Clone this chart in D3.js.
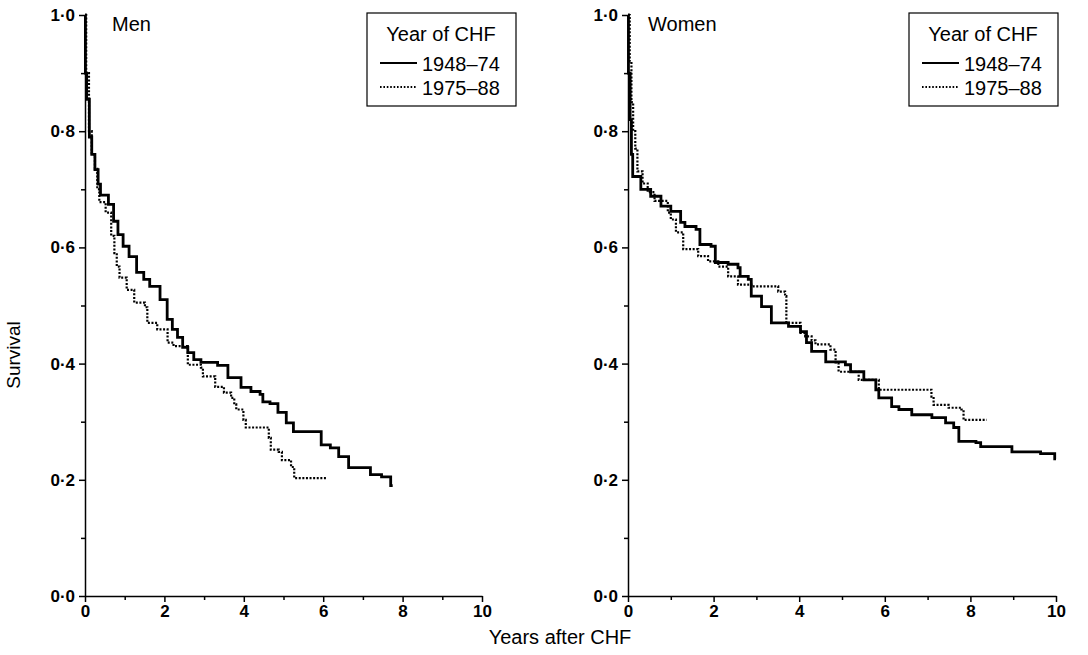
<!DOCTYPE html>
<html>
<head>
<meta charset="utf-8">
<script src="https://cdn.jsdelivr.net/npm/d3@7"></script>
<style>
  body { margin: 0; background: #fff; }
  svg { display: block; font-family: "Liberation Sans", Arial, sans-serif; }
</style>
</head>
<body>
<svg id="chart" width="1088" height="655"></svg>
<script>
// tick values
const xMajor = [0, 2, 4, 6, 8, 10];
const xMinor = [1, 3, 5, 7, 9];
const yMajor = [0, 0.2, 0.4, 0.6, 0.8, 1.0];
const yMinor = [0.1, 0.3, 0.5, 0.7, 0.9];
const groups = ["1948–74", "1975–88"];

// Kaplan-Meier steps: [years, survival after the drop]
const menEarly = [
  [0, 1], [0.01, 0.9], [0.04, 0.855], [0.11, 0.79], [0.17, 0.76], [0.25, 0.734], [0.33, 0.709],
  [0.39, 0.69], [0.59, 0.674], [0.72, 0.645], [0.83, 0.622], [0.96, 0.602], [1.11, 0.584],
  [1.3, 0.557], [1.48, 0.545], [1.63, 0.533], [1.89, 0.51], [2.07, 0.476], [2.2, 0.459],
  [2.33, 0.445], [2.46, 0.428], [2.59, 0.419], [2.74, 0.407], [2.92, 0.402], [3.34, 0.397],
  [3.6, 0.376], [3.93, 0.359], [4.18, 0.352], [4.41, 0.347], [4.48, 0.334], [4.66, 0.331],
  [4.86, 0.316], [5.07, 0.298], [5.25, 0.283], [5.95, 0.26], [6.18, 0.255], [6.39, 0.24],
  [6.64, 0.221], [7.19, 0.209], [7.47, 0.205], [7.7, 0.19], [7.75, 0.19]
];
const menLate = [
  [0, 1], [0.03, 0.9], [0.1, 0.8], [0.17, 0.76], [0.25, 0.735], [0.31, 0.7], [0.36, 0.678],
  [0.52, 0.66], [0.66, 0.62], [0.74, 0.59], [0.8, 0.567], [0.87, 0.548], [1.05, 0.527],
  [1.24, 0.505], [1.51, 0.497], [1.57, 0.47], [1.82, 0.459], [2.08, 0.436], [2.23, 0.43],
  [2.59, 0.398], [2.92, 0.393], [2.97, 0.378], [3.28, 0.36], [3.5, 0.35], [3.68, 0.341],
  [3.76, 0.33], [3.81, 0.321], [3.99, 0.303], [4.05, 0.29], [4.63, 0.272], [4.68, 0.252],
  [4.88, 0.248], [4.96, 0.234], [5.19, 0.222], [5.27, 0.203], [6.07, 0.203]
];
const womenEarly = [
  [0, 1], [0.01, 0.9], [0.05, 0.82], [0.08, 0.76], [0.11, 0.722], [0.3, 0.7], [0.53, 0.688],
  [0.77, 0.671], [1.0, 0.662], [1.23, 0.643], [1.33, 0.636], [1.59, 0.631], [1.68, 0.605],
  [1.94, 0.602], [2.04, 0.574], [2.34, 0.571], [2.57, 0.565], [2.62, 0.55], [2.81, 0.545],
  [2.88, 0.516], [3.12, 0.498], [3.35, 0.47], [3.75, 0.464], [4.03, 0.455], [4.17, 0.436],
  [4.29, 0.421], [4.62, 0.403], [5.08, 0.398], [5.2, 0.386], [5.51, 0.372], [5.79, 0.355],
  [5.86, 0.341], [6.16, 0.326], [6.33, 0.321], [6.63, 0.312], [7.1, 0.307], [7.42, 0.298],
  [7.61, 0.29], [7.73, 0.266], [8.13, 0.264], [8.24, 0.257], [8.97, 0.248], [9.64, 0.245],
  [9.97, 0.236], [10, 0.236]
];
const womenLate = [
  [0, 1], [0.04, 0.92], [0.08, 0.85], [0.12, 0.8], [0.17, 0.77], [0.22, 0.731], [0.34, 0.71],
  [0.46, 0.695], [0.62, 0.68], [0.93, 0.66], [1.0, 0.648], [1.12, 0.626], [1.29, 0.597],
  [1.64, 0.585], [1.87, 0.576], [2.11, 0.567], [2.34, 0.55], [2.57, 0.536], [2.88, 0.533],
  [3.51, 0.524], [3.67, 0.516], [3.7, 0.47], [4.03, 0.453], [4.14, 0.447], [4.29, 0.44],
  [4.38, 0.433], [4.73, 0.424], [4.85, 0.402], [4.92, 0.386], [5.39, 0.372], [5.86, 0.355],
  [7.09, 0.343], [7.14, 0.329], [7.49, 0.324], [7.79, 0.321], [7.84, 0.303], [8.38, 0.303]
];

const panels = [
  { title: "Men", series: [menEarly, menLate], x0: 85, x1: 482, titleX: 112, legendX: 367 },
  { title: "Women", series: [womenEarly, womenLate], x0: 628, x1: 1056, titleX: 648, legendX: 909 }
];

const svg = d3.select("#chart");
const yTop = 15, yBottom = 596;
const fmt = d => d.toFixed(1).replace(".", "·");

panels.forEach(p => {
    const x = d3.scaleLinear().domain([0, 10]).range([p.x0, p.x1]);
    const y = d3.scaleLinear().domain([0, 1]).range([yBottom, yTop]);
    const g = svg.append("g");

    // minor ticks first, no labels
    g.append("g")
        .attr("transform", `translate(${p.x0},0)`)
        .call(d3.axisLeft(y).tickValues(yMinor).tickSize(4).tickFormat(""))
        .call(a => a.select(".domain").remove());
    g.append("g")
        .attr("transform", `translate(0,${yBottom})`)
        .call(d3.axisBottom(x).tickValues(xMinor).tickSize(4).tickFormat(""))
        .call(a => a.select(".domain").remove());

    const yAxis = g.append("g")
        .attr("transform", `translate(${p.x0},0)`)
        .call(d3.axisLeft(y).tickValues(yMajor).tickSize(6).tickSizeOuter(0).tickPadding(4).tickFormat(fmt));
    const xAxis = g.append("g")
        .attr("transform", `translate(0,${yBottom})`)
        .call(d3.axisBottom(x).tickValues(xMajor).tickSize(6).tickSizeOuter(0).tickPadding(3));

    [yAxis, xAxis].forEach(a => {
        a.selectAll("path, line").attr("stroke", "#000").attr("stroke-width", 1.5);
        a.selectAll("text").attr("fill", "#000").style("font-size", "17px").style("font-weight", "bold")
            .style("font-family", "'Liberation Sans', Arial, sans-serif");
    });
    g.selectAll("line").attr("stroke", "#000").attr("stroke-width", 1.5);

    const line = d3.line()
        .x(d => x(d[0]))
        .y(d => y(d[1]))
        .curve(d3.curveStepAfter);

    p.series.forEach((s, i) => {
        g.append("path")
            .datum(s)
            .attr("fill", "none")
            .attr("stroke", "#000")
            .attr("stroke-width", i === 0 ? 2.8 : 2.2)
            .attr("stroke-dasharray", i === 0 ? null : "2,1.6")
            .attr("d", line);
    });

    g.append("text")
        .attr("x", p.titleX)
        .attr("y", 31)
        .style("font-size", "20px")
        .text(p.title);

    // legend box
    const lg = g.append("g").attr("transform", `translate(${p.legendX},13)`);
    lg.append("rect")
        .attr("width", 149).attr("height", 93)
        .attr("fill", "#fff").attr("stroke", "#000").attr("stroke-width", 1.2);
    lg.append("text")
        .attr("x", 74).attr("y", 28)
        .attr("text-anchor", "middle")
        .style("font-size", "20px")
        .text("Year of CHF");
    groups.forEach((name, i) => {
        const yy = 50 + i * 24;
        lg.append("line")
            .attr("x1", 13).attr("x2", 50)
            .attr("y1", yy).attr("y2", yy)
            .attr("stroke", "#000")
            .attr("stroke-width", i === 0 ? 2 : 1.8)
            .attr("stroke-dasharray", i === 0 ? null : "1.6,1.8");
        lg.append("text")
            .attr("x", 55).attr("y", yy + 8)
            .style("font-size", "20px")
            .text(name);
    });
});

svg.append("text")
    .attr("transform", "translate(20,355) rotate(-90)")
    .attr("text-anchor", "middle")
    .style("font-size", "19px")
    .text("Survival");

svg.append("text")
    .attr("x", 560)
    .attr("y", 644)
    .attr("text-anchor", "middle")
    .style("font-size", "20px")
    .text("Years after CHF");
</script>
</body>
</html>
